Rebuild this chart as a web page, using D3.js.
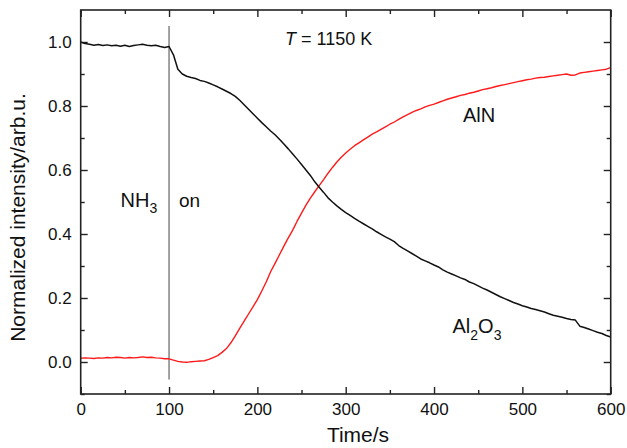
<!DOCTYPE html>
<html>
<head>
<meta charset="utf-8">
<script src="https://cdn.jsdelivr.net/npm/d3@7"></script>
<style>
  html, body { margin: 0; padding: 0; background: #fff; }
  svg text { font-family: "Liberation Sans", Arial, Helvetica, sans-serif; fill: #111; }
</style>
</head>
<body>
<svg id="chart" width="627" height="448"></svg>
<script>
// ---- data ----
const times = [0,5,10,15,20,25,30,35,40,45,50,55,60,65,70,75,80,85,90,95,
  100,105,110,115,120,125,130,135,140,145,150,155,160,165,170,175,180,185,190,195,
  200,205,210,215,220,225,230,235,240,245,250,255,260,265,270,275,280,285,290,295,
  300,305,310,315,320,325,330,335,340,345,350,355,360,365,370,375,380,385,390,395,
  400,405,410,415,420,425,430,435,440,445,450,455,460,465,470,475,480,485,490,495,
  500,505,510,515,520,525,530,535,540,545,550,555,560,565,570,575,580,585,590,595,600];

const al2o3 = [1.000,0.995,0.993,0.990,0.992,0.989,0.991,0.988,0.990,0.987,0.990,0.986,0.989,0.991,0.993,0.990,0.988,0.990,0.986,0.983,
  0.986,0.960,0.915,0.900,0.893,0.889,0.886,0.880,0.877,0.872,0.866,0.860,0.853,0.846,0.839,0.830,0.818,0.804,0.790,0.776,
  0.762,0.748,0.735,0.722,0.710,0.696,0.681,0.666,0.650,0.634,0.617,0.600,0.583,0.563,0.546,0.530,0.513,0.500,0.488,0.477,
  0.467,0.458,0.449,0.440,0.432,0.424,0.416,0.407,0.399,0.391,0.384,0.376,0.364,0.355,0.347,0.339,0.331,0.322,0.316,0.310,
  0.303,0.297,0.288,0.281,0.275,0.269,0.263,0.258,0.250,0.245,0.238,0.231,0.225,0.218,0.211,0.204,0.198,0.192,0.186,0.181,
  0.176,0.172,0.167,0.164,0.160,0.156,0.151,0.146,0.143,0.140,0.136,0.133,0.131,0.112,0.108,0.103,0.098,0.093,0.089,0.083,0.078];

const aln = [0.012,0.013,0.012,0.011,0.013,0.012,0.014,0.013,0.015,0.014,0.012,0.014,0.013,0.014,0.016,0.014,0.015,0.013,0.012,0.010,
  0.010,0.006,0.002,0.000,-0.001,0.001,0.002,0.003,0.004,0.008,0.014,0.020,0.030,0.042,0.060,0.082,0.105,0.128,0.150,0.172,
  0.195,0.222,0.250,0.282,0.308,0.335,0.362,0.388,0.412,0.440,0.465,0.490,0.512,0.532,0.551,0.570,0.590,0.608,0.625,0.640,
  0.653,0.665,0.676,0.685,0.694,0.703,0.712,0.719,0.727,0.735,0.743,0.750,0.758,0.766,0.773,0.780,0.786,0.791,0.797,0.802,
  0.806,0.811,0.816,0.821,0.825,0.829,0.833,0.836,0.840,0.843,0.847,0.851,0.854,0.857,0.861,0.864,0.867,0.870,0.873,0.876,
  0.879,0.882,0.884,0.887,0.889,0.890,0.892,0.894,0.896,0.898,0.900,0.896,0.897,0.903,0.905,0.907,0.909,0.911,0.913,0.915,0.920];

const xMajorTicks = [0,100,200,300,400,500,600];
const xMinorTicks = [50,150,250,350,450,550];
const yMajorTicks = [0.0,0.2,0.4,0.6,0.8,1.0];
const yMinorTicks = [-0.1,0.1,0.3,0.5,0.7,0.9];
const nh3OnTime = 100;

// ---- drawing ----
const svg = d3.select("#chart");
const L = 80.7, R = 610.7, T = 10, B = 394;
const x = d3.scaleLinear().domain([0, 600]).range([L, R]);
const y = d3.scaleLinear().domain([-0.1, 1.1]).range([B, T]);

const axisColor = "#222";
function styleAxis(g) {
  g.select(".domain").remove();
  g.selectAll(".tick line").attr("stroke", axisColor).attr("stroke-width", 1.4);
  g.selectAll(".tick text").style("font-size", "17px").attr("fill", "#111");
}

// bottom
svg.append("g").attr("transform", `translate(0,${B})`)
  .call(d3.axisBottom(x).tickValues(xMajorTicks).tickSize(-7).tickPadding(9).tickFormat(d3.format("d")))
  .call(styleAxis);
svg.append("g").attr("transform", `translate(0,${B})`)
  .call(d3.axisBottom(x).tickValues(xMinorTicks).tickSize(-4).tickFormat(""))
  .call(styleAxis);
// top
svg.append("g").attr("transform", `translate(0,${T})`)
  .call(d3.axisTop(x).tickValues(xMajorTicks).tickSize(-7).tickFormat(""))
  .call(styleAxis);
svg.append("g").attr("transform", `translate(0,${T})`)
  .call(d3.axisTop(x).tickValues(xMinorTicks).tickSize(-4).tickFormat(""))
  .call(styleAxis);
// left
svg.append("g").attr("transform", `translate(${L},0)`)
  .call(d3.axisLeft(y).tickValues(yMajorTicks).tickSize(-7).tickPadding(9).tickFormat(d3.format(".1f")))
  .call(styleAxis);
svg.append("g").attr("transform", `translate(${L},0)`)
  .call(d3.axisLeft(y).tickValues(yMinorTicks).tickSize(-4).tickFormat(""))
  .call(styleAxis);
// right
svg.append("g").attr("transform", `translate(${R},0)`)
  .call(d3.axisRight(y).tickValues(yMajorTicks).tickSize(-7).tickFormat(""))
  .call(styleAxis);
svg.append("g").attr("transform", `translate(${R},0)`)
  .call(d3.axisRight(y).tickValues(yMinorTicks).tickSize(-4).tickFormat(""))
  .call(styleAxis);

// NH3 on line
svg.append("line")
  .attr("x1", x(nh3OnTime)).attr("x2", x(nh3OnTime))
  .attr("y1", y(1.05)).attr("y2", y(-0.055))
  .attr("stroke", "#555").attr("stroke-width", 1.1);

// curves
const line = (vals) => d3.line().x((d, i) => x(times[i])).y(d => y(d))(vals);
svg.append("path").attr("d", line(aln))
  .attr("fill", "none").attr("stroke", "#ff1a1a").attr("stroke-width", 1.4).attr("stroke-linejoin", "round");
svg.append("path").attr("d", line(al2o3))
  .attr("fill", "none").attr("stroke", "#111").attr("stroke-width", 1.5).attr("stroke-linejoin", "round");

// frame
svg.append("rect").attr("x", L).attr("y", T).attr("width", R - L).attr("height", B - T)
  .attr("fill", "none").attr("stroke", axisColor).attr("stroke-width", 1.6);

// annotations
const tLab = svg.append("text").attr("x", 285).attr("y", 45).style("font-size", "18px");
tLab.append("tspan").style("font-style", "italic").text("T");
tLab.append("tspan").text(" = 1150 K");

svg.append("text").attr("x", 463).attr("y", 122).style("font-size", "20px").text("AlN");

const nh = svg.append("text").attr("x", 120.5).attr("y", 207).style("font-size", "20px");
nh.append("tspan").text("NH");
nh.append("tspan").attr("dy", 6).style("font-size", "14px").text("3");

svg.append("text").attr("x", 179).attr("y", 207).style("font-size", "19px").text("on");

const al = svg.append("text").attr("x", 452.5).attr("y", 333).style("font-size", "20px");
al.append("tspan").text("Al");
al.append("tspan").attr("dy", 7).style("font-size", "14px").text("2");
al.append("tspan").attr("dy", -7).text("O");
al.append("tspan").attr("dy", 7).style("font-size", "14px").text("3");

// axis titles
svg.append("text").attr("x", 358).attr("y", 442).attr("text-anchor", "middle")
  .style("font-size", "21px").text("Time/s");
svg.append("text").attr("transform", "translate(25,217.5) rotate(-90)").attr("text-anchor", "middle")
  .style("font-size", "21px").text("Normalized intensity/arb.u.");
</script>
</body>
</html>
